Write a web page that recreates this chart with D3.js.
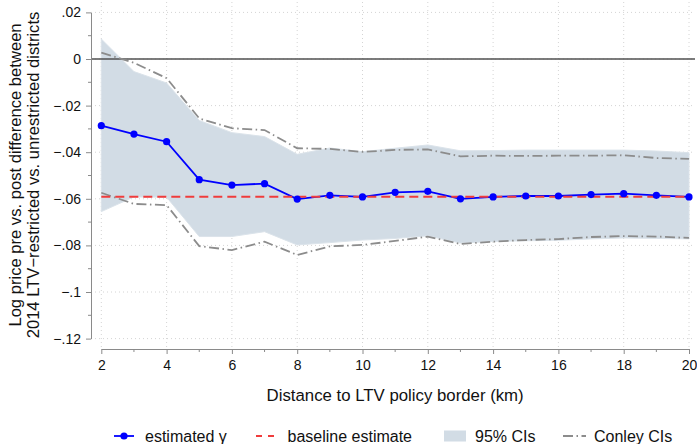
<!DOCTYPE html>
<html>
<head>
<meta charset="utf-8">
<script src="https://cdn.jsdelivr.net/npm/d3@7"></script>
<style>
  html, body { margin: 0; padding: 0; background: #fff; }
  svg { display: block; font-family: "Liberation Sans", Arial, Helvetica, sans-serif; }
</style>
</head>
<body>
<svg id="chart" width="697" height="444"></svg>
<script>
// Distance bands (km) from the LTV policy border
const distance = [2, 3, 4, 5, 6, 7, 8, 9, 10, 11, 12, 13, 14, 15, 16, 17, 18, 19, 20];

// Point estimates of gamma
const gammaEst = [-0.0286, -0.0322, -0.0355, -0.0518, -0.0541, -0.0535, -0.0601, -0.0585, -0.0592,
                  -0.0572, -0.0568, -0.0600, -0.0592, -0.0588, -0.0588, -0.0582, -0.0578, -0.0585, -0.0592];

// 95% confidence band
const ciUpper = [0.0086, -0.0054, -0.0103, -0.0264, -0.0316, -0.0333, -0.0409, -0.0382, -0.0398,
                 -0.0383, -0.0369, -0.0394, -0.0393, -0.0391, -0.0391, -0.0391, -0.0391, -0.0395, -0.0402];
const ciLower = [-0.0655, -0.0592, -0.0593, -0.0762, -0.0762, -0.0741, -0.0798, -0.0788, -0.0777,
                 -0.0770, -0.0759, -0.0790, -0.0783, -0.0780, -0.0778, -0.0772, -0.0768, -0.0770, -0.0772];

// Conley standard-error bounds
const conleyUpper = [0.0027, -0.0016, -0.0082, -0.0255, -0.0297, -0.0305, -0.0383, -0.0386, -0.0399,
                     -0.0390, -0.0388, -0.0418, -0.0415, -0.0416, -0.0415, -0.0415, -0.0413, -0.0425, -0.0429];
const conleyLower = [-0.0574, -0.0622, -0.0627, -0.0803, -0.0820, -0.0784, -0.0841, -0.0804, -0.0798,
                     -0.0781, -0.0762, -0.0794, -0.0784, -0.0777, -0.0773, -0.0764, -0.0760, -0.0762, -0.0768];

// Baseline estimate
const baseline = -0.0591;

// Axis ticks
const xTicks = [2, 4, 6, 8, 10, 12, 14, 16, 18, 20];
const xMinorTicks = [3, 5, 7, 9, 11, 13, 15, 17, 19];
const yTicks = [0.02, 0, -0.02, -0.04, -0.06, -0.08, -0.1, -0.12];
const yTickLabels = [".02", "0", "\u2212.02", "\u2212.04", "\u2212.06", "\u2212.08", "\u2212.1", "\u2212.12"];
const yMinorTicks = [0.01, -0.01, -0.03, -0.05, -0.07, -0.09, -0.11];

const yTitleLines = ["Log price pre vs. post difference between",
                     "2014 LTV\u2212restricted vs. unrestricted districts"];
const xTitle = "Distance to LTV policy border (km)";
const legendLabels = ["estimated \u03b3", "baseline estimate", "95% CIs", "Conley CIs"];

const svg = d3.select("#chart");

const plot = { left: 91, right: 695, top: 2, bottom: 349 };
const x = d3.scaleLinear().domain([2, 20]).range([101.3, 689]);
const y = d3.scaleLinear().domain([-0.12, 0.02]).range([338.6, 12.4]);

const gridColor = "#d4d4d4";
const axisColor = "#8a8a8a";
const bandColor = "#d2dce5";
const conleyColor = "#8c8c8c";
const estColor = "#0000ff";
const baseColor = "#f03c3c";

// Grid lines
const grid = svg.append("g");
grid.selectAll("line.vg").data(xTicks).join("line")
  .attr("x1", d => x(d)).attr("x2", d => x(d))
  .attr("y1", plot.top).attr("y2", plot.bottom)
  .attr("stroke", gridColor).attr("stroke-width", 1).attr("stroke-dasharray", "1,3");
grid.selectAll("line.hg").data(yTicks).join("line")
  .attr("x1", plot.left).attr("x2", plot.right)
  .attr("y1", d => y(d)).attr("y2", d => y(d))
  .attr("stroke", gridColor).attr("stroke-width", 1).attr("stroke-dasharray", "1,3");

// 95% CI band
const band = d3.area()
  .x((d, i) => x(distance[i]))
  .y0((d, i) => y(ciLower[i]))
  .y1((d, i) => y(ciUpper[i]));
svg.append("path").datum(distance)
  .attr("d", band)
  .attr("fill", bandColor)
  .attr("stroke", "#dbe3ea").attr("stroke-width", 1);

// Zero reference line
svg.append("line")
  .attr("x1", plot.left).attr("x2", plot.right)
  .attr("y1", y(0)).attr("y2", y(0))
  .attr("stroke", "#505050").attr("stroke-width", 1.6);

// Conley bounds
const lineOf = arr => d3.line().x((d, i) => x(distance[i])).y((d, i) => y(arr[i]));
[conleyUpper, conleyLower].forEach(arr => {
  svg.append("path").datum(distance)
    .attr("d", lineOf(arr))
    .attr("fill", "none")
    .attr("stroke", conleyColor).attr("stroke-width", 1.8)
    .attr("stroke-dasharray", "10,3.5,1.5,3.5");
});

// Estimated gamma line
svg.append("path").datum(distance)
  .attr("d", lineOf(gammaEst))
  .attr("fill", "none")
  .attr("stroke", estColor).attr("stroke-width", 1.8);

// Baseline estimate
svg.append("line")
  .attr("x1", x(2)).attr("x2", x(20))
  .attr("y1", y(baseline)).attr("y2", y(baseline))
  .attr("stroke", baseColor).attr("stroke-width", 2)
  .attr("stroke-dasharray", "9,5");

// Estimate markers
svg.selectAll("circle.est").data(distance).join("circle")
  .attr("cx", d => x(d))
  .attr("cy", (d, i) => y(gammaEst[i]))
  .attr("r", 3.6)
  .attr("fill", estColor);

// Y axis
const yAxis = svg.append("g")
  .attr("transform", `translate(${plot.left},0)`)
  .call(d3.axisLeft(y).tickValues(yTicks).tickSize(5).tickSizeOuter(0).tickPadding(5)
        .tickFormat((d, i) => yTickLabels[i]));
yAxis.append("g").selectAll("line").data(yMinorTicks).join("line")
  .attr("x1", 0).attr("x2", -3)
  .attr("y1", d => y(d)).attr("y2", d => y(d));
yAxis.selectAll("line").attr("stroke", axisColor);
yAxis.select(".domain").attr("stroke", axisColor);
yAxis.selectAll("text").attr("font-size", 14).attr("fill", "#111")
  .attr("font-family", "Liberation Sans, Arial, sans-serif");

// X axis
const xAxis = svg.append("g")
  .attr("transform", `translate(0,${plot.bottom})`)
  .call(d3.axisBottom(x).tickValues(xTicks).tickSize(5).tickSizeOuter(0).tickPadding(6)
        .tickFormat(d3.format("d")));
xAxis.append("g").selectAll("line").data(xMinorTicks).join("line")
  .attr("x1", d => x(d)).attr("x2", d => x(d))
  .attr("y1", 0).attr("y2", 3);
xAxis.selectAll("line").attr("stroke", axisColor);
xAxis.select(".domain").attr("stroke", axisColor);
xAxis.selectAll("text").attr("font-size", 14).attr("fill", "#111")
  .attr("font-family", "Liberation Sans, Arial, sans-serif");

// Axis titles
const yTitle = svg.append("g").attr("transform", "translate(0,175) rotate(-90)");
yTitle.selectAll("text").data(yTitleLines).join("text")
  .attr("x", 0).attr("y", (d, i) => 21 + i * 18.3)
  .attr("text-anchor", "middle")
  .attr("font-size", 16.6).attr("fill", "#111")
  .text(d => d);

svg.append("text")
  .attr("x", (x(2) + x(20)) / 2).attr("y", 401)
  .attr("text-anchor", "middle")
  .attr("font-size", 16.8).attr("fill", "#111")
  .text(xTitle);

// Legend
const legY = 436;
const leg = svg.append("g");
const keyX = [114, 256, 444, 563];
const textX = [145, 287.5, 475, 594];

leg.append("line").attr("x1", keyX[0]).attr("x2", keyX[0] + 20)
  .attr("y1", legY).attr("y2", legY).attr("stroke", estColor).attr("stroke-width", 1.8);
leg.append("circle").attr("cx", keyX[0] + 10).attr("cy", legY).attr("r", 3.6).attr("fill", estColor);

leg.append("line").attr("x1", keyX[1]).attr("x2", keyX[1] + 23)
  .attr("y1", legY).attr("y2", legY).attr("stroke", baseColor).attr("stroke-width", 2)
  .attr("stroke-dasharray", "6,6");

leg.append("rect").attr("x", keyX[2]).attr("y", legY - 5.5).attr("width", 22).attr("height", 11)
  .attr("fill", bandColor);

leg.append("line").attr("x1", keyX[3]).attr("x2", keyX[3] + 23)
  .attr("y1", legY).attr("y2", legY).attr("stroke", conleyColor).attr("stroke-width", 1.8)
  .attr("stroke-dasharray", "10,3.5,1.5,3.5");

leg.selectAll("text").data(legendLabels).join("text")
  .attr("x", (d, i) => textX[i]).attr("y", legY + 5.5)
  .attr("font-size", 16).attr("fill", "#111")
  .text(d => d);
</script>
</body>
</html>
